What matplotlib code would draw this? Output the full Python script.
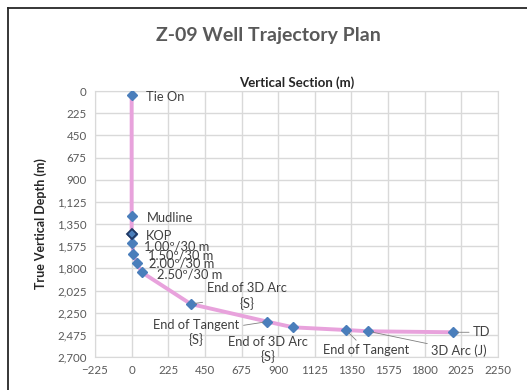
import matplotlib.pyplot as plt
from matplotlib.lines import Line2D

plt.rcParams['font.family'] = ['Lato', 'DejaVu Sans']

# survey stations
vsec = [0, 0, 0, 5, 10, 31, 62, 363, 833, 993, 1316, 1453, 1975]
tvd = [40, 1265, 1455, 1546, 1658, 1749, 1840, 2162, 2341, 2399, 2426, 2439, 2449]
labels = ['Tie On', 'Mudline', 'KOP', '1.00º/30 m', '1.50º/30 m', '2.00º/30 m',
          '2.50º/30 m', 'End of 3D Arc\n{S}', 'End of Tangent\n{S}',
          'End of 3D Arc\n{S}', 'End of Tangent', '3D Arc (J)', 'TD']

xticks = list(range(-225, 2251, 225))
yticks = list(range(0, 2701, 225))

# label placement (offset pixels) and leader line
offsets = [(14, -2), (15, -2), (14, -2), (12, -3), (15, -1), (12, 0), (15, -2),
           (56, 8), (-71, -11), (-25, -22), (20, -20), (91, -19), (20, 0)]
leader = [False] * 7 + [True, True, False, True, True, True]

fig = plt.figure(figsize=(5.27, 3.9), dpi=100)
ax = fig.add_axes([95 / 527, 33 / 390, 403 / 527, 266 / 390])

ax.plot(vsec, tvd, color='#E8A2DC', lw=2.8, zorder=2, solid_capstyle='round')
ax.plot(vsec, tvd, ls='none', marker='D', ms=5.6, color='#4A7EBB', mec='#4A7EBB', zorder=3)
# KOP marker has a dark outline
ax.plot(vsec[2], tvd[2], ls='none', marker='D', ms=5.6, color='#4A7EBB', mec='#1F3864',
        mew=1.3, zorder=4)

for i, lab in enumerate(labels):
    dx, dy = offsets[i]
    ha = 'center' if ('\n' in lab or i in (10, 11)) else 'left'
    kw = {}
    if leader[i]:
        kw['arrowprops'] = dict(arrowstyle='-', color='#7F7F7F', lw=0.6,
                                shrinkA=1, shrinkB=3)
    ax.annotate(lab, (vsec[i], tvd[i]), xytext=(dx, dy), textcoords='offset pixels',
                ha=ha, va='center', multialignment='center', fontsize=9.3,
                color='#404040', linespacing=1.2, zorder=5, **kw)

ax.set_xlim(-225, 2250)
ax.set_ylim(2700, 0)
ax.set_xticks(xticks)
ax.set_yticks(yticks)
ax.set_yticklabels([f'{v:,}' for v in yticks])
ax.grid(True, color='#D9D9D9', lw=1)
ax.set_axisbelow(True)
for s in ax.spines.values():
    s.set_color('#D9D9D9')
ax.tick_params(length=0, labelsize=8.3, labelcolor='#595959', pad=6)

ax.set_ylabel('True Vertical Depth (m)', fontsize=9, fontweight='bold', color='#262626',
              labelpad=7)
ax.set_title('Vertical Section (m)', fontsize=9.5, fontweight='bold', color='#262626', pad=3)
fig.text(268 / 527, 1 - 35 / 390, 'Z-09 Well Trajectory Plan', ha='center', va='center',
         fontsize=14, fontweight='bold', color='#595959')

# outer chart frame (only top and left visible in crop)
fig.add_artist(Line2D([8 / 527, 8 / 527], [0, 1 - 8 / 390], transform=fig.transFigure,
                      color='#262626', lw=1.3))
fig.add_artist(Line2D([8 / 527, 1], [1 - 8 / 390, 1 - 8 / 390], transform=fig.transFigure,
                      color='#262626', lw=1.3))

fig.savefig('out.png', dpi=100)
